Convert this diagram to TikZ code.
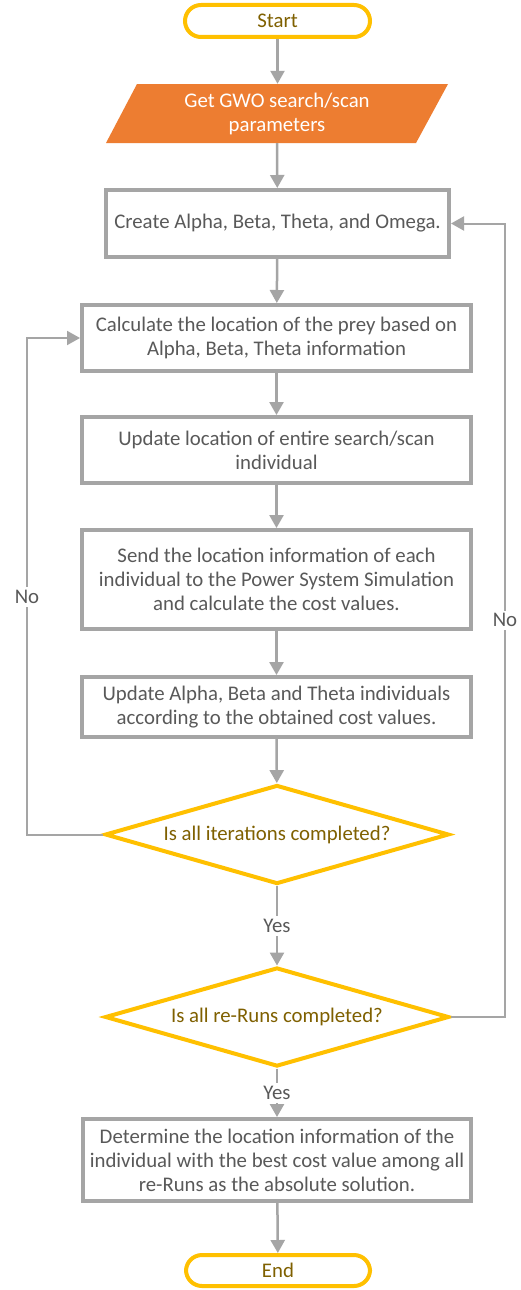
\documentclass[tikz,border=0pt]{standalone}
\usepackage{fontspec}
\setmainfont{Carlito}
\usetikzlibrary{arrows.meta,shapes.geometric}
\definecolor{ygold}{HTML}{FFC000}
\definecolor{ytext}{HTML}{7F6000}
\definecolor{gline}{HTML}{A5A5A5}
\definecolor{gtext}{HTML}{595959}
\definecolor{orng}{HTML}{ED7D31}
\begin{document}
\begin{tikzpicture}[x=1pt,y=-1pt,
  every node/.style={font=\fontsize{20.8}{24}\selectfont, align=center, inner sep=0pt},
  term/.style={draw=ygold, line width=4pt, rounded corners=16pt, text=ytext, fill=white, minimum width=185pt, minimum height=32pt},
  procbox/.style={draw=gline, line width=4pt, text=gtext, fill=white, minimum width=389pt},
  decision/.style={diamond, draw=ygold, line width=4pt, text=ytext, fill=white, aspect=3.5, minimum width=344pt, minimum height=99pt},
  flow/.style={draw=gline, line width=2.5pt, -{Triangle[width=14pt,length=13pt]}},
  loopline/.style={draw=gline, line width=2pt, -{Triangle[width=14pt,length=13pt]}},
  lbl/.style={fill=white, text=gtext, inner sep=3pt}
]
\useasboundingbox (0,0) rectangle (521,1290);
\fill[white] (0,0) rectangle (521,1290);

\node[term] (start) at (277.5,21) {Start};

\fill[orng] (137,84) -- (448,84) -- (416,143) -- (106,143) -- cycle;
\node[text=white, minimum width=280pt, minimum height=59pt] (par) at (277,113.5) {Get GWO search/scan\\parameters};

\node[procbox, minimum width=343pt, minimum height=67pt] (b1) at (277.5,223.5) {Create Alpha, Beta, Theta, and Omega.};
\node[procbox, minimum height=66pt] (b2) at (276.5,338) {Calculate the location of the prey based on\\Alpha, Beta, Theta information};
\node[procbox, minimum height=66pt] (b3) at (276.5,450) {Update location of entire search/scan\\individual};
\node[procbox, minimum height=99pt] (b4) at (276.5,579.5) {Send the location information of each\\individual to the Power System Simulation\\and calculate the cost values.};
\node[procbox, minimum height=60pt] (b5) at (276.5,707) {Update Alpha, Beta and Theta individuals\\according to the obtained cost values.};

\node[decision] (d1) at (277,834.5) {Is all iterations completed?};
\node[decision] (d2) at (277,1017) {Is all re-Runs completed?};

\node[procbox, minimum width=388pt, minimum height=82pt] (b6) at (277,1160) {Determine the location information of the\\individual with the best cost value among all\\re-Runs as the absolute solution.};

\node[term, minimum width=184pt, minimum height=31pt] (end) at (278,1270.5) {End};

\coordinate (lx) at (27,0);
\coordinate (rx) at (505,0);

\draw[flow] (start) -- (start |- par.north);
\draw[flow] (par.south) -- (b1);
\draw[flow] (b1) -- (b2);
\draw[flow] (b2) -- (b3);
\draw[flow] (b3) -- (b4);
\draw[flow] (b4) -- (b5);
\draw[flow] (b5) -- (d1);
\draw[flow] (d1) -- node[lbl]{Yes} (d2);
\draw[flow] (d2) -- node[lbl]{Yes} (b6);
\draw[flow] (b6) -- (end);

\draw[loopline] (d1.west) -- (d1.west -| lx) -- node[lbl, pos=0.478]{No} (b2.west -| lx) -- (b2.west);
\draw[loopline] (d2.east) -- (d2.east -| rx) -- node[lbl, pos=0.5]{No} (b1.east -| rx) -- (b1.east);
\end{tikzpicture}
\end{document}
